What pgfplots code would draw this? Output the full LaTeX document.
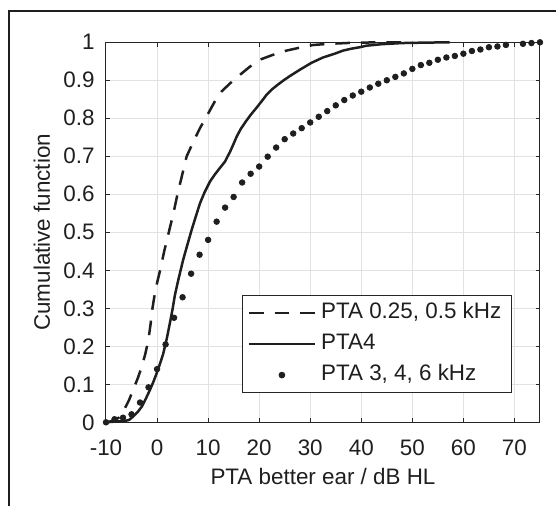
\documentclass[border=0pt]{standalone}
\usepackage{fontspec}
\setmainfont{Liberation Sans}
\usepackage{pgfplots}
\pgfplotsset{compat=1.18}
\definecolor{axgray}{HTML}{262626}
\definecolor{ink}{HTML}{1F1F1F}
\definecolor{gridgray}{HTML}{E2E2E2}
\newcommand{\lblfont}{\fontsize{11.2}{13.4}\selectfont}

\begin{document}
\begin{tikzpicture}
\useasboundingbox (-53pt,-41.85pt) rectangle (225pt,211.15pt);
% outer frame (left and top edges)
\draw[line width=1pt, color=ink] (-48.25pt,-50pt) -- (-48.25pt,205.65pt) -- (240pt,205.65pt);
\begin{axis}[
  at={(0,0)}, anchor=south west,
  scale only axis, width=217pt, height=190pt,
  xmin=-10, xmax=75, ymin=0, ymax=1,
  clip=false,
  xtick={-10,0,10,20,30,40,50,60,70},
  xticklabels={-10,0,10,20,30,40,50,60,70},
  ytick={0,0.1,0.2,0.3,0.4,0.5,0.6,0.7,0.8,0.9,1},
  yticklabels={0,0.1,0.2,0.3,0.4,0.5,0.6,0.7,0.8,0.9,1},
  tick align=inside, major tick length=2.2pt,
  axis line style={axgray, line width=0.5pt},
  every tick/.style={axgray, line width=0.5pt},
  grid=major,
  major grid style={gridgray, line width=0.5pt},
  tick label style={font=\lblfont, color=ink, inner sep=0pt},
  xticklabel style={anchor=base, yshift=-16.6pt},
  yticklabel style={anchor=east, xshift=-5.5pt},
  every axis x label/.style={at={(axis description cs:0.5,-0.165)}, anchor=base},
  every axis y label/.style={at={(axis description cs:-0.1475,0.5)}, rotate=90, anchor=center},
  label style={font=\lblfont, color=ink},
  xlabel={PTA better ear / dB HL},
  ylabel={Cumulative function},
  legend cell align=left,
  legend style={at={(axis description cs:0.9355,0.0763)}, anchor=south east,
    draw=axgray, line width=0.5pt, fill=white, font=\lblfont, text=ink,
    inner xsep=2.6pt, inner ysep=1.1pt, row sep=0pt,
    nodes={text height=8pt, text depth=2.5pt, inner sep=2.5pt}},
  legend image code/.code={\draw[mark repeat=2,mark phase=2,#1] plot coordinates {(0pt,0pt) (16.5pt,0pt) (33pt,0pt)};},
]
\addplot[ink, line width=1.25pt, dash pattern=on 7.3pt off 5.5pt] coordinates {
  (-10,0) (-8.5,0.004) (-7.5,0.012) (-6.8,0.025) (-6.3,0.037) (-5.5,0.058)
  (-4.7,0.085) (-3.8,0.115) (-3.0,0.146) (-2.3,0.18) (-1.7,0.217) (-1.3,0.255)
  (-0.9,0.30) (-0.3,0.35) (0.6,0.40) (1.4,0.45) (2.3,0.50) (3.2,0.55)
  (4.0,0.60) (4.9,0.65) (5.8,0.70) (7.1,0.738) (8.4,0.774) (9.5,0.80)
  (11.3,0.844) (12.6,0.87) (14.3,0.892) (16.2,0.914) (18.2,0.936) (20.5,0.956)
  (22.7,0.967) (25.3,0.978) (28,0.986) (30.6,0.993) (33.8,0.996) (38.7,0.999)
  (45,1.0) (50,1.0)
};
\addlegendentry{PTA 0.25, 0.5 kHz}
\addplot[ink, line width=1.25pt] coordinates {
  (-10,0) (-8,0.002) (-6.5,0.003) (-5.5,0.006) (-4.7,0.015) (-3.8,0.027)
  (-3.0,0.041) (-2.2,0.062) (-1.4,0.085) (-0.7,0.107) (-0.08,0.129) (0.6,0.155)
  (1.2,0.18) (1.9,0.22) (2.5,0.26) (3.0,0.295) (3.5,0.335) (4.15,0.374)
  (5.1,0.427) (6.0,0.47) (6.77,0.506) (7.6,0.542) (8.4,0.576) (9.3,0.605)
  (10.35,0.633) (11.2,0.65) (12,0.664) (13.3,0.686) (14.3,0.712) (15.0,0.733)
  (15.6,0.752) (16.4,0.772) (17.4,0.792) (18.4,0.81) (19.5,0.828) (20.5,0.845)
  (21.4,0.861) (22.5,0.876) (23.7,0.889) (24.8,0.9) (26,0.911) (28,0.928)
  (30.25,0.946) (32.5,0.960) (34.8,0.970) (36.4,0.978) (38,0.983) (39.7,0.987)
  (41,0.991) (44,0.995) (48,0.998) (52,0.999) (57.3,1.0)
};
\addlegendentry{PTA4}
\addplot[ink, only marks, mark=*, mark size=1.4pt, mark options={fill=ink, draw=none}] coordinates {
  (-10,0) (-8.33,0.008) (-6.67,0.012) (-5,0.021) (-3.33,0.052) (-1.67,0.092)
  (0,0.14) (1.67,0.205) (3.33,0.275) (5,0.329) (6.67,0.391) (8.33,0.441)
  (10,0.480) (11.67,0.528) (13.33,0.565) (15,0.593) (16.67,0.631) (18.33,0.654)
  (20,0.673) (21.67,0.699) (23.33,0.723) (25,0.745) (26.67,0.760) (28.33,0.774)
  (30,0.789) (31.67,0.804) (33.33,0.819) (35,0.834) (36.67,0.848) (38.33,0.860)
  (40,0.870) (41.67,0.881) (43.33,0.891) (45,0.900) (46.67,0.909) (48.33,0.918)
  (50,0.930) (51.67,0.940) (53.33,0.946) (55,0.954) (56.67,0.960) (58.33,0.964)
  (60,0.970) (61.67,0.977) (63.33,0.981) (65,0.987) (66.67,0.989) (68.33,0.993)
  (71.67,0.996) (73.33,0.998) (75,1.0)
};
\addlegendentry{PTA 3, 4, 6 kHz}
\end{axis}
\end{tikzpicture}
\end{document}
